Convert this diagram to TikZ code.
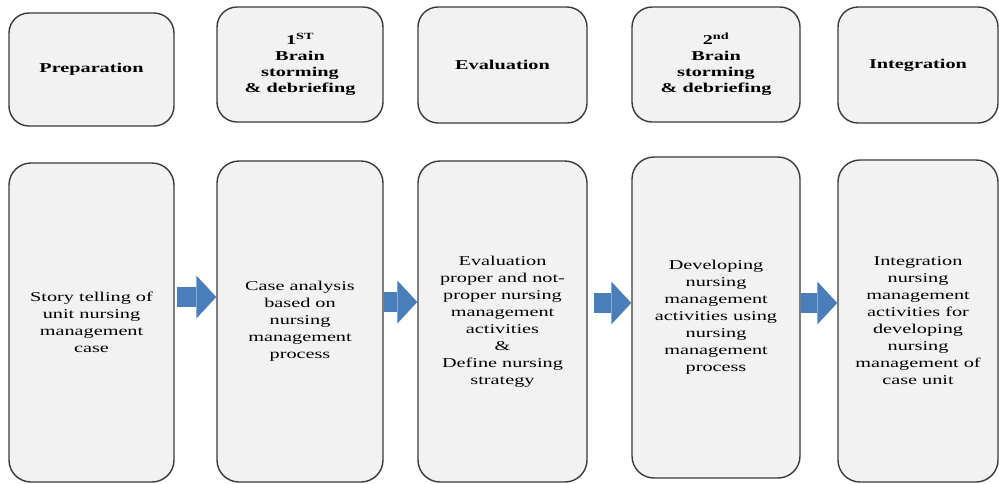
\documentclass[tikz,border=0pt]{standalone}
\usepackage{fontspec}
\setmainfont{Liberation Serif}[FakeStretch=1.5]
\usetikzlibrary{arrows.meta}
\usetikzlibrary{positioning}

\definecolor{boxfill}{HTML}{F2F2F2}
\definecolor{boxline}{HTML}{3A3A3A}
\definecolor{flowblue}{HTML}{4A7EBB}

\begin{document}
\begin{tikzpicture}[x=1pt,y=-1pt,
  stage/.style={draw=boxline,fill=boxfill,line width=1.4pt,rounded corners=20pt,
    inner sep=0pt,align=center,font=\bfseries\fontsize{13.5}{16}\selectfont},
  task/.style={stage,rounded corners=22pt,font=\fontsize{13.5}{17}\selectfont},
  flow/.style={draw=flowblue,line width=20pt,
    -{Triangle[length=20pt,width=43pt,line width=0pt]}}]
  \useasboundingbox (0,0) rectangle (999,483);
  % phases
  \node[stage,minimum width=165pt,minimum height=113pt] (prep) at (91.5,69.5) {Preparation};
  \node[stage,minimum width=166pt,minimum height=115pt] (brainA) at (300,64.5) {1\textsuperscript{ST}\\Brain\\storming\\\& debriefing};
  \node[stage,minimum width=169pt,minimum height=116pt] (eval) at (502.5,65) {Evaluation};
  \node[stage,minimum width=168pt,minimum height=115pt] (brainB) at (716,64.5) {2\textsuperscript{nd}\\Brain\\storming\\\& debriefing};
  \node[stage,minimum width=160pt,minimum height=116pt] (integ) at (918,65) {Integration};
  % activities
  \node[task,minimum width=165pt,minimum height=319pt] (story) at (91.5,322.5) {Story telling of\\unit nursing\\management\\case};
  \node[task,minimum width=166pt,minimum height=321pt] (analysis) at (300,321.5) {Case analysis\\based on\\nursing\\management\\process};
  \node[task,minimum width=169pt,minimum height=321pt] (evaluate) at (502.5,321.5) {Evaluation\\proper and not-\\proper nursing\\management\\activities\\\&\\Define nursing\\strategy};
  \node[task,minimum width=168pt,minimum height=321pt] (develop) at (716,317.5) {Developing\\nursing\\management\\activities using\\nursing\\management\\process};
  \node[task,minimum width=160pt,minimum height=322pt] (integrate) at (918,321) {Integration\\nursing\\management\\activities for\\developing\\nursing\\management of\\case unit};
  % arrows
  \draw[flow,shorten <=2pt] (story.east |- 0,297) -- (analysis.west |- 0,297);
  \draw[flow] (analysis.east |- 0,302) -- (evaluate.west |- 0,302);
  \draw[flow,shorten <=6pt] (evaluate.east |- 0,303) -- (develop.west |- 0,303);
  \draw[flow] (develop.east |- 0,303) -- (integrate.west |- 0,303);
\end{tikzpicture}
\end{document}
